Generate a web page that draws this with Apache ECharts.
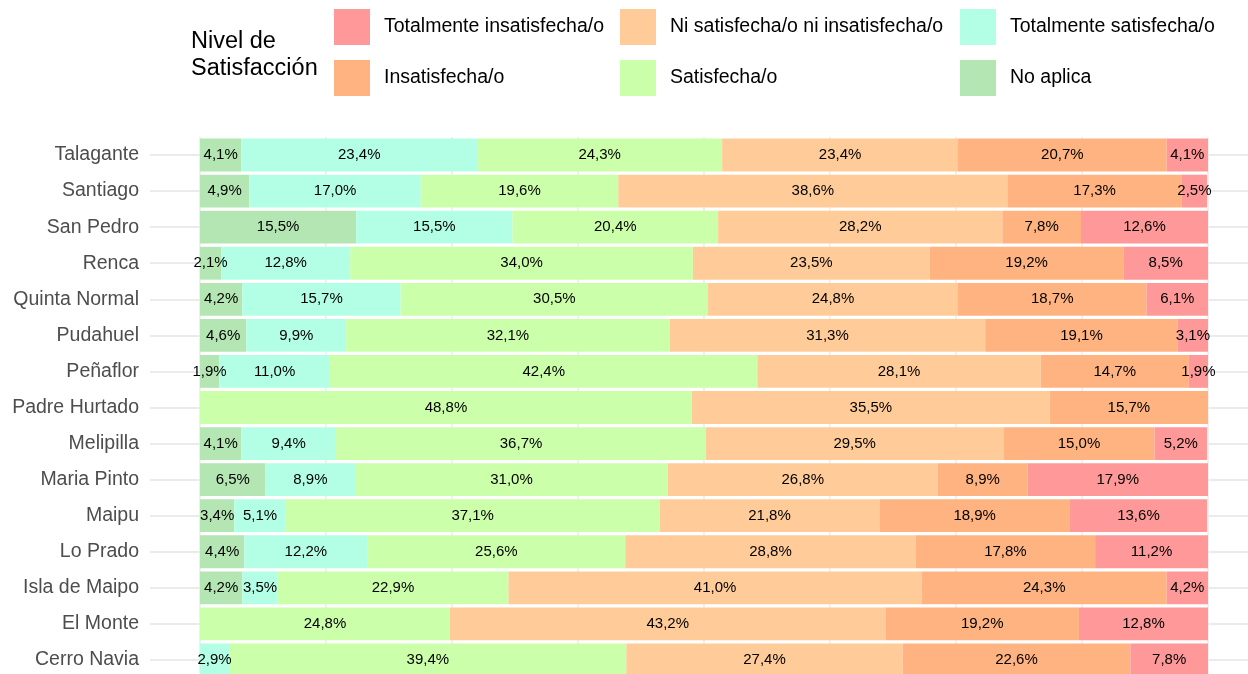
<!DOCTYPE html>
<html lang="es">
<head>
    <meta charset="UTF-8">
    <title>Nivel de Satisfacción por comuna</title>
    <script src="https://cdn.jsdelivr.net/npm/echarts@6/dist/echarts.min.js"></script>
    <style>
        body { margin: 0; background: #fff; }
        #chart { width: 1248px; height: 674px; }
    </style>
</head>
<body>
    <div id="chart"></div>
    <script>
        // Comunas (de arriba hacia abajo)
        const comunas = ['Talagante', 'Santiago', 'San Pedro', 'Renca', 'Quinta Normal', 'Pudahuel',
            'Peñaflor', 'Padre Hurtado', 'Melipilla', 'Maria Pinto', 'Maipu', 'Lo Prado',
            'Isla de Maipo', 'El Monte', 'Cerro Navia'];

        // Porcentajes por nivel (mismo orden que comunas)
        const noAplica      = [4.1, 4.9, 15.5, 2.1, 4.2, 4.6, 1.9, 0, 4.1, 6.5, 3.4, 4.4, 4.2, 0, 0];
        const totSatisf     = [23.4, 17.0, 15.5, 12.8, 15.7, 9.9, 11.0, 0, 9.4, 8.9, 5.1, 12.2, 3.5, 0, 2.9];
        const satisf        = [24.3, 19.6, 20.4, 34.0, 30.5, 32.1, 42.4, 48.8, 36.7, 31.0, 37.1, 25.6, 22.9, 24.8, 39.4];
        const niNi          = [23.4, 38.6, 28.2, 23.5, 24.8, 31.3, 28.1, 35.5, 29.5, 26.8, 21.8, 28.8, 41.0, 43.2, 27.4];
        const insatisf      = [20.7, 17.3, 7.8, 19.2, 18.7, 19.1, 14.7, 15.7, 15.0, 8.9, 18.9, 17.8, 24.3, 19.2, 22.6];
        const totInsatisf   = [4.1, 2.5, 12.6, 8.5, 6.1, 3.1, 1.9, 0, 5.2, 17.9, 13.6, 11.2, 4.2, 12.8, 7.8];

        const niveles = [
            { name: 'No aplica', data: noAplica, color: '#B3E6B3' },
            { name: 'Totalmente satisfecha/o', data: totSatisf, color: '#B3FFE6' },
            { name: 'Satisfecha/o', data: satisf, color: '#CCFFAA' },
            { name: 'Ni satisfecha/o ni insatisfecha/o', data: niNi, color: '#FFCC99' },
            { name: 'Insatisfecha/o', data: insatisf, color: '#FFB380' },
            { name: 'Totalmente insatisfecha/o', data: totInsatisf, color: '#FF9999' }
        ];

        const FONT = '"Liberation Sans", Arial, Helvetica, sans-serif';
        const chart = echarts.init(document.getElementById('chart'));

        function leyenda(left, items) {
            return {
                orient: 'vertical',
                left: left,
                top: 4,
                itemWidth: 36,
                itemHeight: 36,
                itemGap: 15,
                icon: 'rect',
                selectedMode: false,
                data: items,
                textStyle: { fontFamily: FONT, fontSize: 19.5, color: '#000', padding: [6, 0, 0, 9] }
            };
        }

        const option = {
            animation: false,
            textStyle: { fontFamily: FONT },
            title: {
                text: 'Nivel de\nSatisfacción',
                left: 186,
                top: 23,
                textStyle: { fontFamily: FONT, fontSize: 23.5, fontWeight: 'normal', color: '#000', lineHeight: 27 }
            },
            legend: [
                leyenda(329, ['Totalmente insatisfecha/o', 'Insatisfecha/o']),
                leyenda(615, ['Ni satisfecha/o ni insatisfecha/o', 'Satisfecha/o']),
                leyenda(955, ['Totalmente satisfecha/o', 'No aplica'])
            ],
            grid: { left: 200, top: 137, width: 1008, height: 541, outerBoundsMode: 'none' },
            xAxis: {
                type: 'value',
                min: 0,
                max: 100,
                interval: 12.5,
                axisLabel: { show: false },
                axisLine: { show: false },
                axisTick: { show: false },
                splitLine: { show: true, lineStyle: { color: '#EBEBEB', width: 1.5 } }
            },
            yAxis: [
                {
                    type: 'category',
                    data: comunas,
                    inverse: true,
                    axisLine: { show: false },
                    axisTick: { show: true, alignWithLabel: true, length: 50, lineStyle: { color: '#EBEBEB', width: 2 } },
                    axisLabel: { margin: 61, fontSize: 19.5, color: '#4D4D4D', fontFamily: FONT, padding: [4, 0, 0, 0] },
                    splitLine: { show: false }
                },
                {
                    // solo para las líneas horizontales dentro del panel
                    type: 'category',
                    data: comunas,
                    inverse: true,
                    position: 'left',
                    axisLine: { show: false },
                    axisTick: { show: true, inside: true, alignWithLabel: true, length: 1060, lineStyle: { color: '#EBEBEB', width: 2 } },
                    axisLabel: { show: false },
                    splitLine: { show: false }
                }
            ],
            series: niveles.map(n => ({
                name: n.name,
                type: 'bar',
                stack: 'total',
                yAxisIndex: 0,
                barCategoryGap: '9%',
                data: n.data,
                itemStyle: { color: n.color },
                label: {
                    show: true,
                    position: 'inside',
                    color: '#000',
                    fontSize: 15,
                    fontFamily: FONT,
                    padding: [4, 0, 0, 0],
                    formatter: p => p.value > 0 ? p.value.toFixed(1).replace('.', ',') + '%' : ''
                }
            }))
        };

        chart.setOption(option);
    </script>
</body>
</html>
